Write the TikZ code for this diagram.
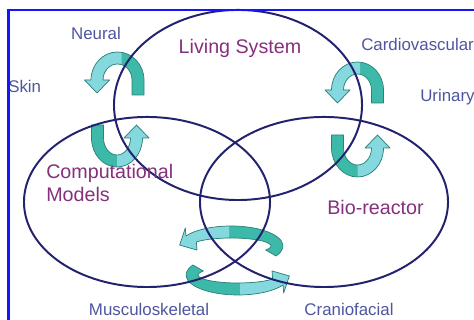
\documentclass[tikz,border=0pt]{standalone}
\usepackage{fontspec}
\setmainfont{Liberation Sans}
\usetikzlibrary{shapes.geometric}
\definecolor{ringline}{HTML}{22226E}
\definecolor{heading}{HTML}{85307D}
\definecolor{organ}{HTML}{4F56A0}
\definecolor{frameblue}{HTML}{1414FF}
\definecolor{tealdark}{HTML}{3DB9A9}
\definecolor{teallight}{HTML}{84D8DE}
\definecolor{tealedge}{HTML}{2F7F78}

\tikzset{
  ring/.style={draw=ringline,line width=1.4pt,ellipse,inner sep=0pt},
  heading/.style={text=heading,inner sep=0pt,font=\fontsize{14}{16.4}\selectfont},
  organ/.style={text=organ,inner sep=0pt,font=\fontsize{12}{14}\selectfont},
}

% curved ribbon arrow: #1 centre, #2 rx, #3 ry, #4 tail angle, #5 head angle,
% #6 tail length, #7 clip region of the light (head) half
\newcommand{\swirl}[7]{%
  \begin{scope}[shift={#1}]
    \pgfmathsetmacro\swOx{#2+6}\pgfmathsetmacro\swOy{#3+6}%
    \pgfmathsetmacro\swIx{#2-6}\pgfmathsetmacro\swIy{#3-6}%
    \pgfmathsetmacro\swPx{#2*cos(#5)}\pgfmathsetmacro\swPy{#3*sin(#5)}%
    \pgfmathsetmacro\swTx{-#2*sin(#5)}\pgfmathsetmacro\swTy{#3*cos(#5)}%
    \pgfmathsetmacro\swTl{sqrt(\swTx*\swTx+\swTy*\swTy)}%
    \pgfmathsetmacro\swUx{\swTx/\swTl}\pgfmathsetmacro\swUy{\swTy/\swTl}%
    \pgfmathsetmacro\swSx{-#2*sin(#4)}\pgfmathsetmacro\swSy{#3*cos(#4)}%
    \pgfmathsetmacro\swSl{sqrt(\swSx*\swSx+\swSy*\swSy)}%
    \pgfmathsetmacro\swVx{#6*\swSx/\swSl}\pgfmathsetmacro\swVy{#6*\swSy/\swSl}%
    % tail corners, arc ends and head corners
    \pgfmathsetmacro\swAx{\swOx*cos(#4)}\pgfmathsetmacro\swAy{\swOy*sin(#4)}%
    \pgfmathsetmacro\swBx{\swIx*cos(#4)}\pgfmathsetmacro\swBy{\swIy*sin(#4)}%
    \pgfmathsetmacro\swCx{\swIx*cos(#5)}\pgfmathsetmacro\swCy{\swIy*sin(#5)}%
    \pgfmathsetmacro\swHx{\swPx+12.5*\swUy}\pgfmathsetmacro\swHy{\swPy-12.5*\swUx}%
    \pgfmathsetmacro\swKx{\swPx-12.5*\swUy}\pgfmathsetmacro\swKy{\swPy+12.5*\swUx}%
    \pgfmathsetmacro\swEx{\swPx+13*\swUx}\pgfmathsetmacro\swEy{\swPy+13*\swUy}%
    \def\swirlpath{(\swAx-\swVx,\swAy-\swVy) -- (\swAx,\swAy)
      arc[start angle=#4,end angle=#5,x radius=\swOx,y radius=\swOy]
      -- (\swHx,\swHy) -- (\swEx,\swEy) -- (\swKx,\swKy) -- (\swCx,\swCy)
      arc[start angle=#5,end angle=#4,x radius=\swIx,y radius=\swIy]
      -- (\swBx-\swVx,\swBy-\swVy) -- cycle}%
    \fill[tealdark] \swirlpath;
    \begin{scope}
      \clip #7;
      \fill[teallight] \swirlpath;
    \end{scope}
    \draw[tealedge,line width=0.5pt,line join=round] \swirlpath;
  \end{scope}}

\begin{document}
\begin{tikzpicture}[x=0.025cm,y=0.025cm]
  \useasboundingbox (0,0) rectangle (474,320);
  \clip (0,0) rectangle (474,320);
  \fill[white] (0,0) rectangle (474,320);

  % arrows between the three fields
  \swirl{(117.5,240)}{20.5}{22}{0}{180}{15}{(-60,-60) rectangle (4,60)}
  \swirl{(117,182)}{19.5}{23}{180}{360}{13}{(0,-60) rectangle (60,60)}
  \swirl{(357.5,230)}{20}{22}{0}{180}{13}{(-60,-60) rectangle (2.5,60)}
  \swirl{(357.5,172)}{20}{23}{180}{360}{13}{(0,-60) rectangle (60,60)}
  \swirl{(231,74)}{46}{14}{-30}{150}{0}{(-80,-60) rectangle (-2,60)}
  \swirl{(238,45)}{46}{14}{150}{330}{0}{(2,-60) rectangle (80,60)}

  % the three fields
  \node[ring,minimum width=6.2cm,minimum height=4.75cm] (living) at (238,215) {};
  \node[ring,minimum width=6.15cm,minimum height=4.25cm] (comp) at (147,118) {};
  \node[ring,minimum width=6.2cm,minimum height=4.25cm] (bio) at (324,118) {};

  \node[heading,anchor=base] (livingtxt) at (240,266) {Living System};
  \node[heading,anchor=base west,align=left] (comptxt) at (46,118) {Computational\\Models};
  \node[heading,anchor=base] (biotxt) at (375.5,105) {Bio-reactor};

  % organ systems
  \node[organ,anchor=base] (neural) at (96,280) {Neural};
  \node[organ,anchor=base west] (skin) at (8,227) {Skin};
  \node[organ,anchor=base west] (cardio) at (361,269) {Cardiovascular};
  \node[organ,anchor=base west] (urinary) at (420,218) {Urinary};
  \node[organ,anchor=base] (musculo) at (149,4) {Musculoskeletal};
  \node[organ,anchor=base] (cranio) at (349,4) {Craniofacial};

  \draw[frameblue,line width=2.1pt] (8.5,-10) -- (8.5,310) -- (490,310);
\end{tikzpicture}
\end{document}
